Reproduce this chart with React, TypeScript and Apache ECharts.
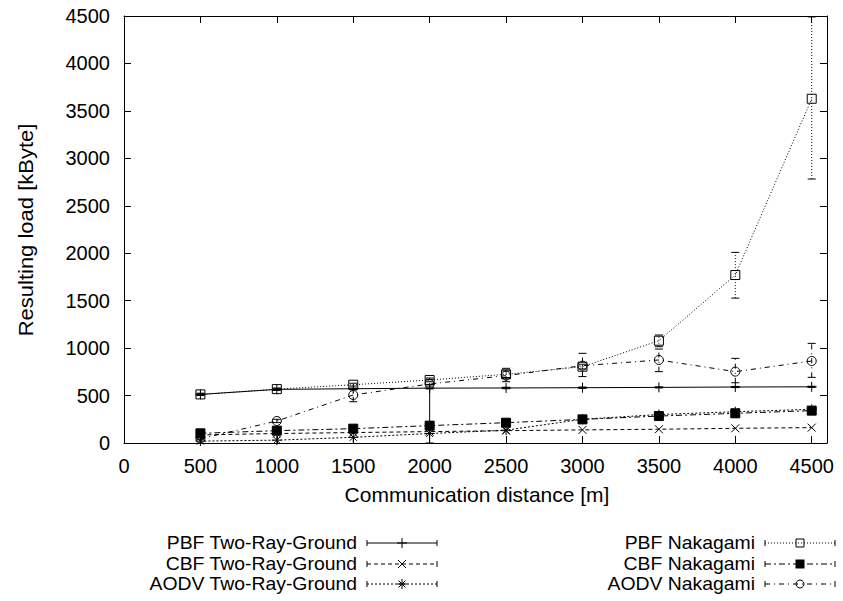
import React, { useEffect, useRef } from "react";
import * as echarts from "echarts";

// ---- data ----
const distances = [500, 1000, 1500, 2000, 2500, 3000, 3500, 4000, 4500];
const xTicks = [0, 500, 1000, 1500, 2000, 2500, 3000, 3500, 4000, 4500];
const yTicks = [0, 500, 1000, 1500, 2000, 2500, 3000, 3500, 4000, 4500];

const pbfTwoRay = [512, 565, 572, 578, 580, 583, 586, 590, 592];
const cbfTwoRay = [85, 100, 110, 120, 130, 138, 145, 155, 162];
const aodvTwoRay = [20, 30, 60, 100, 135, 250, 300, 330, 355];
const pbfNakagami = [512, 568, 614, 664, 724, 804, 1078, 1770, 3628];
const cbfNakagami = [102, 130, 151, 183, 214, 249, 284, 313, 341];
const aodvNakagami = [45, 232, 506, 622, 710, 815, 875, 752, 864];

const pbfNakagamiLow = [500, 555, 600, 645, 690, 780, 1015, 1527, 2782];
const pbfNakagamiHigh = [525, 580, 630, 685, 760, 830, 1138, 2009, 4490];
const aodvNakagamiLow = [35, 215, 435, 570, 646, 700, 752, 635, 692];
const aodvNakagamiHigh = [55, 250, 560, 670, 787, 945, 990, 892, 1050];
const pbfTwoRayLow = [505, 558, 565, 0, 572, 576, 580, 584, 586];
const pbfTwoRayHigh = [519, 572, 579, 600, 588, 590, 592, 596, 598];

const seriesNames = [
  "PBF Two-Ray-Ground",
  "CBF Two-Ray-Ground",
  "AODV Two-Ray-Ground",
  "PBF Nakagami",
  "CBF Nakagami",
  "AODV Nakagami",
];

const FONT = "Liberation Sans, Arial, Helvetica, sans-serif";

const DASH: Record<string, number[] | null> = {
  solid: null,
  dashed: [4, 3],
  dotted: [2, 2],
  fineDot: [1, 2],
  dashDot: [6, 3, 2, 3],
  dashDot2: [5, 4, 1, 4],
};

const SYM_PLUS = "path://M0,5L10,5M5,0L5,10";
const SYM_X = "path://M0,0L10,10M10,0L0,10";
const SYM_STAR = "path://M0,5L10,5M5,0L5,10M1.5,1.5L8.5,8.5M8.5,1.5L1.5,8.5";

function lineSeries(name: string, data: number[], dash: number[] | null, symbol: string, size: number, filled: boolean) {
  return {
    name,
    type: "line",
    data: distances.map((d, i) => [d, data[i]]),
    symbol,
    symbolSize: size,
    showAllSymbol: true,
    lineStyle: { color: "#000", width: 1, type: dash ? dash : "solid" },
    itemStyle: {
      color: filled ? "#000" : "rgba(0,0,0,0)",
      borderColor: "#000",
      borderWidth: 1,
    },
    emphasis: { disabled: true },
    z: 3,
  };
}

function errSeries(low: number[], high: number[], dash: number[] | null) {
  return {
    type: "custom",
    data: distances.map((d, i) => [d, low[i], high[i]]),
    encode: { x: 0, y: [1, 2] },
    z: 2,
    silent: true,
    renderItem: (params: any, api: any) => {
      const x = api.value(0);
      const p1 = api.coord([x, api.value(1)]);
      const p2 = api.coord([x, api.value(2)]);
      const style: any = { stroke: "#000", lineWidth: 1, fill: null };
      if (dash) style.lineDash = dash;
      return {
        type: "group",
        children: [
          { type: "line", shape: { x1: p1[0], y1: p1[1], x2: p2[0], y2: p2[1] }, style },
          { type: "line", shape: { x1: p1[0] - 4, y1: p1[1], x2: p1[0] + 4, y2: p1[1] }, style: { stroke: "#000", lineWidth: 1 } },
          { type: "line", shape: { x1: p2[0] - 4, y1: p2[1], x2: p2[0] + 4, y2: p2[1] }, style: { stroke: "#000", lineWidth: 1 } },
        ],
      };
    },
  };
}

function markerGraphic(kind: string, cx: number, cy: number) {
  const st = { stroke: "#000", lineWidth: 1, fill: null };
  const l = (x1: number, y1: number, x2: number, y2: number) => ({ type: "line", shape: { x1, y1, x2, y2 }, style: st });
  switch (kind) {
    case "plus":
      return [l(cx - 5, cy, cx + 5, cy), l(cx, cy - 5, cx, cy + 5)];
    case "x":
      return [l(cx - 4, cy - 4, cx + 4, cy + 4), l(cx + 4, cy - 4, cx - 4, cy + 4)];
    case "star":
      return [l(cx - 5, cy, cx + 5, cy), l(cx, cy - 5, cx, cy + 5), l(cx - 3.5, cy - 3.5, cx + 3.5, cy + 3.5), l(cx + 3.5, cy - 3.5, cx - 3.5, cy + 3.5)];
    case "square":
      return [{ type: "rect", shape: { x: cx - 4, y: cy - 4, width: 8, height: 8 }, style: st }];
    case "fsquare":
      return [{ type: "rect", shape: { x: cx - 4.5, y: cy - 4.5, width: 9, height: 9 }, style: { fill: "#000" } }];
    case "circle":
      return [{ type: "circle", shape: { cx, cy, r: 4 }, style: st }];
  }
  return [];
}

function legendEntry(name: string, textRight: number, cy: number, dash: number[] | null, kind: string) {
  const x1 = textRight + 10;
  const x2 = textRight + 80;
  const mid = (x1 + x2) / 2;
  const lineStyle: any = { stroke: "#000", lineWidth: 1, fill: null };
  if (dash) lineStyle.lineDash = dash;
  return [
    {
      type: "text",
      x: textRight,
      y: cy,
      scaleX: 1.02,
      style: { text: name, align: "right", verticalAlign: "middle", font: `19px ${FONT}`, fill: "#000" },
    },
    { type: "line", shape: { x1, y1: cy, x2, y2: cy }, style: lineStyle },
    { type: "line", shape: { x1, y1: cy - 3, x2: x1, y2: cy + 3 }, style: { stroke: "#000", lineWidth: 1 } },
    { type: "line", shape: { x1: x2, y1: cy - 3, x2, y2: cy + 3 }, style: { stroke: "#000", lineWidth: 1 } },
    ...markerGraphic(kind, mid, cy),
  ];
}

export default function App() {
  const ref = useRef<HTMLDivElement>(null);
  useEffect(() => {
    if (!ref.current) return;
    const chart = echarts.init(ref.current, undefined, { renderer: "svg" });
    const axisCommon = {
      type: "value",
      splitLine: { show: false },
      axisLine: { show: true, onZero: false, lineStyle: { color: "#000", width: 1 } },
      axisTick: { show: true, inside: true, length: 7, lineStyle: { color: "#000" } },
    };
    const legendRows = [543, 564, 584];
    const option: any = {
      animation: false,
      backgroundColor: "#fff",
      grid: { left: 124, top: 16, width: 703, height: 427 },
      xAxis: [
        {
          ...axisCommon,
          min: 0,
          max: 4600,
          interval: 500,
          position: "bottom",
          axisLabel: {
            show: true,
            margin: 13,
            color: "#000",
            fontSize: 20,
            fontFamily: FONT,
            showMaxLabel: false,
            formatter: (v: number) => (xTicks.includes(v) ? String(v) : ""),
          },
        },
        {
          ...axisCommon,
          min: 0,
          max: 4600,
          interval: 500,
          position: "top",
          axisLabel: { show: false },
        },
      ],
      yAxis: [
        {
          ...axisCommon,
          min: 0,
          max: 4500,
          interval: 500,
          position: "left",
          axisLabel: {
            show: true,
            margin: 14,
            color: "#000",
            fontSize: 20,
            fontFamily: FONT,
            formatter: (v: number) => (yTicks.includes(v) ? String(v) : ""),
          },
        },
        {
          ...axisCommon,
          min: 0,
          max: 4500,
          interval: 500,
          position: "right",
          axisLabel: { show: false },
        },
      ],
      series: [
        errSeries(pbfTwoRayLow, pbfTwoRayHigh, DASH.solid),
        errSeries(pbfNakagamiLow, pbfNakagamiHigh, DASH.fineDot),
        errSeries(aodvNakagamiLow, aodvNakagamiHigh, DASH.dashDot2),
        lineSeries(seriesNames[0], pbfTwoRay, DASH.solid, SYM_PLUS, 10, false),
        lineSeries(seriesNames[1], cbfTwoRay, DASH.dashed, SYM_X, 8, false),
        lineSeries(seriesNames[2], aodvTwoRay, DASH.dotted, SYM_STAR, 10, false),
        lineSeries(seriesNames[3], pbfNakagami, DASH.fineDot, "rect", 9, false),
        lineSeries(seriesNames[4], cbfNakagami, DASH.dashDot, "rect", 9, true),
        lineSeries(seriesNames[5], aodvNakagami, DASH.dashDot2, "circle", 9, false),
      ],
      graphic: [
        {
          type: "text",
          x: 477,
          y: 495,
          scaleX: 1.05,
          style: { text: "Communication distance [m]", align: "center", verticalAlign: "middle", font: `20px ${FONT}`, fill: "#000" },
        },
        {
          type: "text",
          x: 26,
          y: 230,
          rotation: Math.PI / 2,
          scaleX: 1.1,
          style: { text: "Resulting load [kByte]", align: "center", verticalAlign: "middle", font: `20px ${FONT}`, fill: "#000" },
        },
        ...legendEntry(seriesNames[0], 357, legendRows[0], DASH.solid, "plus"),
        ...legendEntry(seriesNames[1], 357, legendRows[1], DASH.dashed, "x"),
        ...legendEntry(seriesNames[2], 357, legendRows[2], DASH.dotted, "star"),
        ...legendEntry(seriesNames[3], 755, legendRows[0], DASH.fineDot, "square"),
        ...legendEntry(seriesNames[4], 755, legendRows[1], DASH.dashDot, "fsquare"),
        ...legendEntry(seriesNames[5], 755, legendRows[2], DASH.dashDot2, "circle"),
      ],
    };
    chart.setOption(option);
    return () => chart.dispose();
  }, []);
  return <div ref={ref} style={{ position: "absolute", left: 0, top: 0, width: 843, height: 601 }} />;
}
